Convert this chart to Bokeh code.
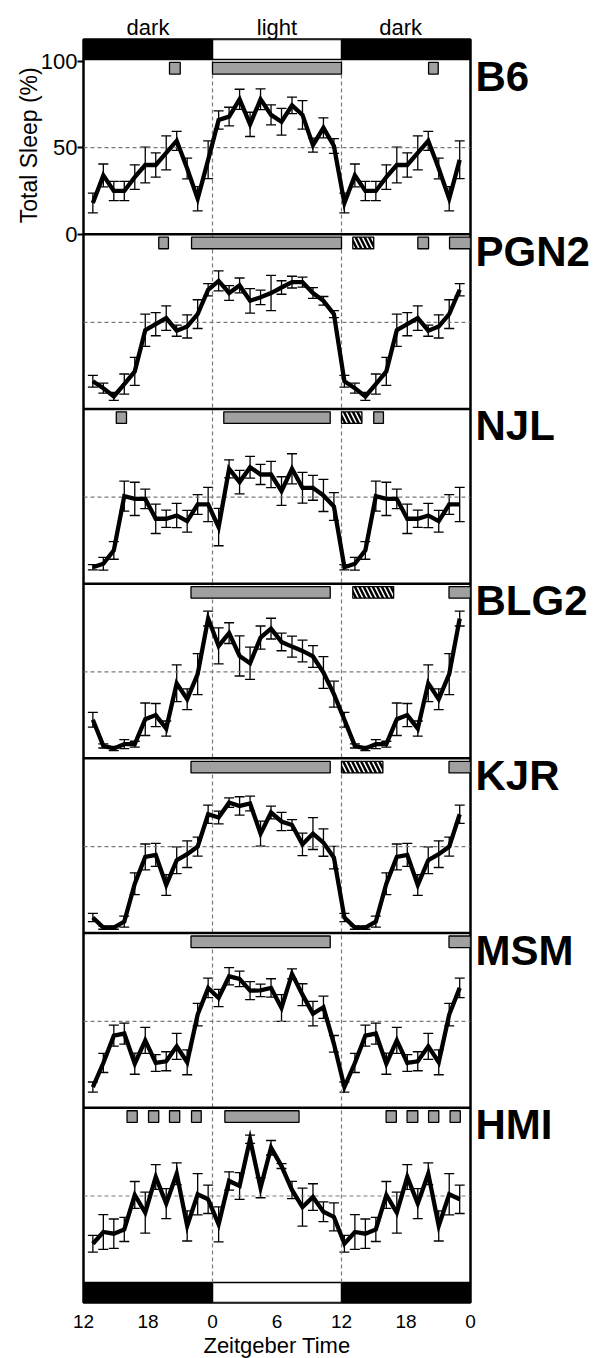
import numpy as np
from bokeh.plotting import figure
from bokeh.models import (Range1d, FixedTicker, Whisker, TeeHead, ColumnDataSource,
                          LinearAxis)
from bokeh.embed import file_html
from bokeh.resources import INLINE

# ---------------- data (Total Sleep %, hourly bins) ----------------
strains = ["B6", "PGN2", "NJL", "BLG2", "KJR", "MSM", "HMI"]

b6_dark = [18, 34, 25, 25, 33, 40, 40, 47, 54, 38, 20.5, 43]
b6_dark_err = [5.7, 6.6, 5.6, 5.6, 7.1, 10.3, 7.0, 9.8, 5.5, 6.0, 7.0, 10.9]
b6_light = [66, 68, 78, 63.5, 78, 69, 65, 74.5, 69, 51.5, 61.5, 51]
b6_light_err = [5.3, 5.4, 5.8, 7.0, 6.0, 5.8, 7.7, 4.8, 8.2, 4.0, 5.8, 4.3]

pgn2_dark = [16, 12, 7.2, 14.4, 21.7, 45.5, 49, 52.5, 45.2, 47.7, 54.8, 68.9]
pgn2_dark_err = [3.4, 2.9, 2.3, 5.8, 8.1, 9.3, 6.7, 7.1, 3.2, 6.7, 8.3, 3.5]
pgn2_light = [74, 67, 71.4, 62.5, 64.5, 67, 70.2, 73.3, 73.3, 67, 62.5, 54.8]
pgn2_light_err = [5.8, 4.3, 4.3, 7.1, 4.2, 10.2, 3.9, 3.4, 2.9, 3.1, 2.5, 2.0]

njl_dark = [9.5, 11.5, 19.2, 50.6, 49, 49, 37.5, 37.5, 39.4, 36.1, 45.8, 45.8]
njl_dark_err = [1.5, 3.7, 5.1, 8.7, 9.6, 5.6, 8.5, 5.0, 7.0, 6.3, 5.7, 9.9]
njl_light = [32.7, 66.4, 58.7, 67.3, 63.1, 63.1, 53.5, 66.4, 55.4, 55.4, 51, 44.6]
njl_light_err = [10.8, 5.2, 6.8, 6.3, 5.8, 7.6, 8.3, 8.7, 8.9, 7.2, 9.3, 8.0]

blg2_dark = [22.3, 7.2, 5.7, 8.2, 8.2, 22.6, 25, 17.2, 43.4, 34.2, 48.7, 80.8]
blg2_dark_err = [4.3, 1.2, 1.2, 2.6, 1.7, 9.4, 6.7, 4.4, 10.6, 6.0, 11.8, 4.3]
blg2_light = [65, 72.4, 59.2, 55, 69.8, 75, 67.3, 64.6, 62.1, 58.9, 49.6, 37.1]
blg2_light_err = [10.4, 6.0, 11.6, 9.3, 6.7, 6.0, 5.1, 6.1, 6.3, 6.3, 9.2, 7.5]

kjr_dark = [9, 3.2, 3.2, 6.6, 28.5, 44, 45.2, 27.8, 42.1, 45.6, 50, 68.7]
kjr_dark_err = [2.4, 1.0, 1.0, 3.2, 6.3, 7.5, 6.7, 6.0, 7.7, 7.7, 5.5, 5.3]
kjr_light = [66.8, 75.4, 73.5, 74.9, 57.5, 69.7, 64.5, 62.5, 51.3, 57.5, 52.3, 43.6]
kjr_light_err = [3.7, 2.7, 5.3, 4.3, 7.2, 3.7, 5.3, 3.1, 6.5, 9.2, 7.9, 6.5]

msm_dark = [12, 25.9, 41.7, 42.9, 25.5, 39, 25.9, 26.9, 35.5, 26.3, 53.9, 69.3]
msm_dark_err = [2.9, 5.5, 6.1, 6.1, 6.1, 7.5, 4.8, 5.5, 7.5, 7.2, 6.5, 5.6]
msm_light = [63.5, 76, 74.5, 67.7, 67.9, 69.3, 57.7, 77.4, 65.4, 54.4, 58.1, 37]
msm_light_err = [5.0, 5.0, 4.5, 5.2, 3.6, 5.3, 7.7, 2.9, 6.3, 7.1, 6.4, 4.8]

hmi_dark = [22.4, 29.2, 28.2, 30.7, 50.6, 40.4, 61, 45.6, 62.9, 32.7, 51, 48.1]
hmi_dark_err = [4.8, 10, 8.5, 7, 7.8, 11.8, 7.2, 8.7, 6.3, 8.7, 11.9, 8.2]
hmi_light = [33.6, 58.7, 55.8, 82.8, 54.8, 77.9, 67.3, 53.5, 43.6, 49.4, 40.9, 37.9]
hmi_light_err = [10.1, 5.3, 7.7, 2.4, 5.8, 4.2, 1.4, 5.0, 11.0, 7.7, 5.7, 8.1]

# significance markers: (start, end on the 12..48 hour axis, kind g=grey h=hatched)
b6_sig = [(20.0, 21.0, "g"), (24.0, 36.0, "g"), (44.1, 45.0, "g")]
pgn2_sig = [(19.0, 19.9, "g"), (22.05, 36.0, "g"), (37.05, 39.0, "h"), (43.1, 44.1, "g"), (46.05, 48.0, "g")]
njl_sig = [(15.05, 16.0, "g"), (25.05, 34.95, "g"), (36.0, 37.9, "h"), (39.0, 39.9, "g")]
blg2_sig = [(22.0, 34.95, "g"), (37.05, 40.85, "h"), (46.0, 48.0, "g")]
kjr_sig = [(22.0, 34.95, "g"), (36.0, 39.85, "h"), (46.0, 48.0, "g")]
msm_sig = [(22.0, 34.95, "g"), (46.0, 48.0, "g")]
hmi_sig = [(16.05, 17.0, "g"), (18.05, 19.0, "g"), (20.0, 20.95, "g"), (22.05, 22.95, "g"),
           (25.15, 32.05, "g"), (40.15, 41.1, "g"), (42.1, 43.1, "g"), (44.1, 45.05, "g"), (46.1, 47.05, "g")]

x_ticks = [12, 18, 24, 30, 36, 42, 48]
x_tick_labels = ["12", "18", "0", "6", "12", "18", "0"]
y_ticks = [0, 50, 100]
phase_ticks = [18, 30, 41.5]
phase_labels = ["dark", "light", "dark"]

panels = [
    (b6_dark, b6_dark_err, b6_light, b6_light_err, b6_sig),
    (pgn2_dark, pgn2_dark_err, pgn2_light, pgn2_light_err, pgn2_sig),
    (njl_dark, njl_dark_err, njl_light, njl_light_err, njl_sig),
    (blg2_dark, blg2_dark_err, blg2_light, blg2_light_err, blg2_sig),
    (kjr_dark, kjr_dark_err, kjr_light, kjr_light_err, kjr_sig),
    (msm_dark, msm_dark_err, msm_light, msm_light_err, msm_sig),
    (hmi_dark, hmi_dark_err, hmi_light, hmi_light_err, hmi_sig),
]

# ---------------- layout constants ----------------
FONT = "Liberation Sans"
P = 101          # vertical span of each panel (data units)
BAR = 11.56      # height of light/dark bars (data units)
X0, STEP = 12.87, 0.975   # x placement of the 36 double-plotted bins
DASH = "#7a7a7a"
GRAY = "#a0a0a0"

p = figure(frame_width=387, frame_height=1263,
           x_range=Range1d(12, 48), y_range=Range1d(-BAR, 7 * P + BAR),
           output_backend="svg", toolbar_location=None,
           min_border_left=82, min_border_right=125,
           min_border_top=39, min_border_bottom=50)
p.xgrid.visible = False
p.ygrid.visible = False
p.outline_line_color = "black"
p.outline_line_width = 2.5
p.background_fill_color = "white"
p.border_fill_color = "white"

# bottom axis
xa = p.below[0]
xa.ticker = FixedTicker(ticks=x_ticks)
xa.major_label_overrides = {t: l for t, l in zip(x_ticks, x_tick_labels)}
xa.axis_line_color = None
xa.major_tick_line_color = None
xa.minor_tick_line_color = None
xa.major_label_standoff = 6
xa.major_label_text_font = FONT
xa.major_label_text_font_size = "19px"
xa.major_label_text_color = "black"
xa.axis_label = "Zeitgeber Time"
xa.axis_label_text_font = FONT
xa.axis_label_text_font_size = "22px"
xa.axis_label_text_font_style = "normal"
xa.axis_label_text_color = "black"
xa.axis_label_standoff = 2

# left axis (B6 panel only)
b6_base = 6 * P
ya = p.left[0]
ya.ticker = FixedTicker(ticks=[b6_base + t for t in y_ticks])
ya.major_label_overrides = {b6_base + t: str(t) for t in y_ticks}
ya.axis_line_color = None
ya.minor_tick_line_color = None
ya.major_tick_in = 0
ya.major_tick_out = 6
ya.major_tick_line_width = 2
ya.major_tick_line_color = "black"
ya.major_label_standoff = 0
ya.major_label_text_font = FONT
ya.major_label_text_font_size = "22px"
ya.major_label_text_color = "black"

# outer left axis carrying the y title next to the B6 panel
# (a vertical tick label starts at its tick and runs downwards)
title_pos = b6_base + 96.5
ta = LinearAxis(ticker=FixedTicker(ticks=[title_pos]),
                major_label_overrides={title_pos: "Total Sleep (%)"},
                major_label_orientation=np.pi / 2,
                axis_line_color=None, major_tick_line_color=None,
                minor_tick_line_color=None, major_label_standoff=8,
                major_tick_in=0, major_tick_out=0,
                major_label_text_font=FONT, major_label_text_font_size="23px",
                major_label_text_line_height=0.7,
                major_label_text_color="black")
p.add_layout(ta, "left")

# right axis carrying the strain names
name_pos = [(6 - k) * P + P - 9.8 for k in range(7)]
ra = LinearAxis(ticker=FixedTicker(ticks=name_pos),
                major_label_overrides={y: s for y, s in zip(name_pos, strains)},
                axis_line_color=None, major_tick_line_color=None,
                minor_tick_line_color=None, major_label_standoff=5,
                major_tick_in=0, major_tick_out=0,
                major_label_text_font=FONT, major_label_text_font_size="42px",
                major_label_text_font_style="bold", major_label_text_color="black")
p.add_layout(ra, "right")

# top axis carrying the dark / light phase names
pa = LinearAxis(ticker=FixedTicker(ticks=phase_ticks),
                major_label_overrides={x: s for x, s in zip(phase_ticks, phase_labels)},
                axis_line_color=None, major_tick_line_color=None,
                minor_tick_line_color=None, major_label_standoff=0,
                major_tick_in=0, major_tick_out=0,
                major_label_text_font=FONT, major_label_text_font_size="22px",
                major_label_text_color="black")
p.add_layout(pa, "above")

# light/dark bars (top and bottom)
for (y0, y1) in [(7 * P, 7 * P + BAR), (-BAR, 0)]:
    p.quad(left=[12, 36], right=[24, 48], bottom=y0, top=y1,
           fill_color="black", line_color="black", line_width=1.5)
    p.quad(left=[24], right=[36], bottom=y0, top=y1,
           fill_color="white", line_color="black", line_width=1.5)

# vertical dashed lines at lights-on / lights-off
p.segment(x0=[24, 36], y0=[0, 0], x1=[24, 36], y1=[7 * P, 7 * P],
          line_color=DASH, line_width=1.2, line_dash="4 3")

xs = [X0 + STEP * i for i in range(36)]

for k, (dark, dark_err, light, light_err, sig) in enumerate(panels):
    base = (6 - k) * P
    # 50 % reference line
    p.segment(x0=[12], y0=[base + 50], x1=[48], y1=[base + 50],
              line_color=DASH, line_width=1.2, line_dash="4 3")
    # significance markers
    gl = [s for s, e, t in sig if t == "g"]
    gr = [e for s, e, t in sig if t == "g"]
    if gl:
        p.quad(left=gl, right=gr, bottom=base + 92.6, top=base + 99.3,
               fill_color=GRAY, line_color="black", line_width=1.3)
    hl = [s for s, e, t in sig if t == "h"]
    hr = [e for s, e, t in sig if t == "h"]
    if hl:
        p.quad(left=hl, right=hr, bottom=base + 92.6, top=base + 99.3,
               fill_color="white", line_color="black", line_width=1.3,
               hatch_pattern="\\", hatch_color="black", hatch_weight=2.5, hatch_scale=9)
    # double-plotted series: dark, light, dark
    vals = list(dark) + list(light) + list(dark)
    errs = list(dark_err) + list(light_err) + list(dark_err)
    src = ColumnDataSource(dict(x=xs, y=[base + v for v in vals],
                                lo=[base + v - e for v, e in zip(vals, errs)],
                                hi=[base + v + e for v, e in zip(vals, errs)]))
    w = Whisker(base="x", lower="lo", upper="hi", source=src,
                line_color="black", line_width=1.3,
                upper_head=TeeHead(size=10, line_color="black", line_width=1.3),
                lower_head=TeeHead(size=10, line_color="black", line_width=1.3))
    p.add_layout(w)
    p.line("x", "y", source=src, line_color="black", line_width=4.3, line_join="miter")
    # panel separator
    if k > 0:
        p.segment(x0=[12], y0=[base + P], x1=[48], y1=[base + P],
                  line_color="black", line_width=2.5)

open("out.html", "w").write(file_html(p, INLINE))
